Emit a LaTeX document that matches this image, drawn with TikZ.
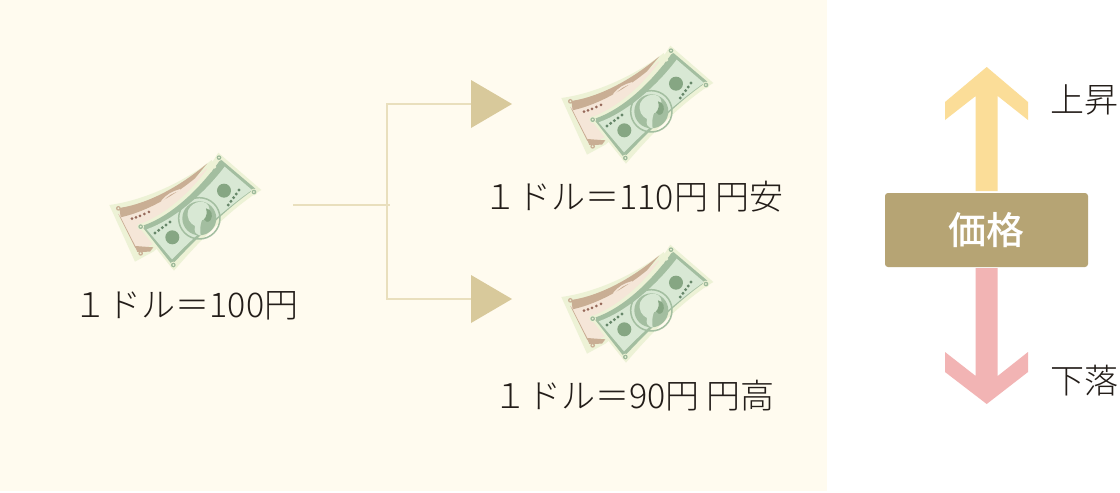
\documentclass[tikz,border=0pt]{standalone}
\usepackage{fontspec}
\newfontfamily\jp{Noto Sans CJK JP Light}
\newfontfamily\jpb{Noto Sans CJK JP Medium}
\definecolor{bgc}{HTML}{FFFBEF}
\definecolor{linec}{HTML}{E9DFBD}
\definecolor{tric}{HTML}{D8C99B}
\definecolor{boxc}{HTML}{B6A474}
\definecolor{upc}{HTML}{FBDD98}
\definecolor{downc}{HTML}{F2B4B4}
\definecolor{txt}{HTML}{231D19}
\definecolor{billedge}{HTML}{EDF2D6}
\definecolor{gin}{HTML}{D8E8D4}
\definecolor{gband}{HTML}{A3BEA0}
\definecolor{gdk}{HTML}{86A683}
\definecolor{gmid}{HTML}{9DB99A}
\definecolor{gdot}{HTML}{67876A}
\definecolor{pinkin}{HTML}{F5E6D8}
\definecolor{pdk}{HTML}{C9AE94}
\definecolor{pdot}{HTML}{96695A}
\tikzset{
  x=1pt,y=-1pt,
  txtlabel/.style={font=\jp\fontsize{34}{36}\selectfont,text=txt,inner sep=0pt,anchor=center},
  link/.style={draw=linec,line width=1.3pt},
  bill/.pic={
    \begin{scope}[x=0.3333pt,y=-0.3333pt]
    % back bill
    \fill[billedge] (28,195) .. controls (140,180) and (260,120) .. (335,60) -- (370,120) -- (200,300) -- (160,335) -- (105,365) -- cycle;
    \fill[pinkin] (55,222) .. controls (150,205) and (250,150) .. (320,85) -- (330,130) -- (180,300) -- (135,325) -- (112,335) -- cycle;
    \fill[pdk] (58,204) .. controls (150,190) and (245,135) .. (322,70) -- (285,115) .. controls (230,160) and (150,212) .. (62,232) -- cycle;
    \fill[pdk] (62,232) -- (112,330) -- (105,322) -- (55,222) -- cycle;
    \fill[pdk] (105,318) -- (160,322) -- (150,335) -- (112,336) -- cycle;
    \draw[pinkin,line width=1.6] (185,185) .. controls (200,165) and (220,155) .. (240,150);
    \foreach \a/\b in {96/236,108/232,120/228,133/222,147/216}{\fill[pdot] (\a,\b) circle (4.5);}
    \foreach \a/\b in {55/205,122/340}{\fill[pdk] (\a,\b) circle (7); \fill[billedge] (\a,\b) circle (3);}
    % front bill
    \fill[billedge] (112,255) .. controls (210,222) and (300,130) .. (355,38) -- (484,150) .. controls (400,200) and (300,300) .. (222,392) -- cycle;
    \fill[gband] (125,258) .. controls (215,230) and (305,140) .. (362,58) -- (466,146) .. controls (385,200) and (295,290) .. (216,374) -- cycle;
    \fill[gin] (140,268) .. controls (225,238) and (315,158) .. (374,80) -- (456,150) .. controls (378,205) and (288,285) .. (216,358) -- cycle;
    \draw[gband,line width=1.5] (298,235) circle (62);
    \fill[gband] (298,235) circle (51);
    \fill[gin] (265,210) .. controls (280,178) and (325,178) .. (328,205) .. controls (330,225) and (320,240) .. (306,240) .. controls (300,255) and (300,270) .. (302,287) .. controls (285,282) and (282,275) .. (285,258) .. controls (270,250) and (258,235) .. (265,210) -- cycle;
    \fill[gdk] (318,205) .. controls (335,208) and (340,225) .. (332,240) .. controls (325,250) and (315,245) .. (312,238) .. controls (320,230) and (322,218) .. (318,205) -- cycle;
    \fill[gdk] (217,292) circle (21);
    \fill[gdk] (372,152) circle (21);
    \foreach \a/\b in {165/279,176/271,187/263,198/255,210/246}{\fill[gdot] (\a,\b) circle (5);}
    \foreach \a/\b in {385/195,393/184,401/173,409/162,417/150}{\fill[gdot] (\a,\b) circle (5);}
    \foreach \a/\b in {320/102,332/92,344/81}{\fill[billedge] (\a,\b) circle (5);}
    \foreach \a/\b in {122/260,220/375,462/156,357/53}{\fill[billedge] (\a,\b) circle (10); \fill[gmid] (\a,\b) circle (7); \fill[billedge] (\a,\b) circle (3);}
    \end{scope}
  }
}
\begin{document}
\begin{tikzpicture}[x=1pt,y=-1pt]
\useasboundingbox (0,0) rectangle (1120,493);
\clip (0,0) rectangle (1120,493);
\fill[white] (0,0) rectangle (1120,493);
\fill[bgc] (0,0) rectangle (827,491);
\pic at (100,140) {bill};
\pic at (552,33) {bill};
\pic at (552,232) {bill};
\node[txtlabel] (base) at (186,306) {１ドル＝100円};
\node[txtlabel] (weak) at (633.5,197) {１ドル＝110円 円安};
\node[txtlabel] (strong) at (634,396) {１ドル＝90円 円高};
\coordinate (src) at (293,205);
\coordinate (junction) at (390,205);
\coordinate (branchU) at (387,104);
\coordinate (branchD) at (387,299);
\node[inner sep=0pt,minimum size=0pt] (triU) at (471,104) {};
\node[inner sep=0pt,minimum size=0pt] (triD) at (471,299) {};
\draw[link] (src) -- (junction);
\draw[link] (triU.center) -- (branchU) -- (branchD) -- (triD.center);
\fill[tric] (471,80) -- (512,104) -- (471,128) -- cycle;
\fill[tric] (471,275) -- (512,299) -- (471,323) -- cycle;
\fill[upc] (986.7,67) -- (1028,102) -- (1028,120) -- (997.7,96) -- (997.7,191) -- (975.7,191) -- (975.7,96) -- (945,120) -- (945,102) -- cycle;
\fill[downc] (986.7,404) -- (1028,372) -- (1028,352) -- (997.7,376) -- (997.7,268) -- (975.7,268) -- (975.7,376) -- (945,352) -- (945,372) -- cycle;
\node[fill=boxc,rounded corners=3pt,minimum width=203pt,minimum height=74pt,inner sep=0pt,text=white,font=\jpb\fontsize{38}{40}\selectfont] (price) at (986.5,230) {価格};
\node[txtlabel,anchor=west] (up) at (1050,100) {上昇};
\node[txtlabel,anchor=west] (down) at (1050,381) {下落};
\end{tikzpicture}
\end{document}
